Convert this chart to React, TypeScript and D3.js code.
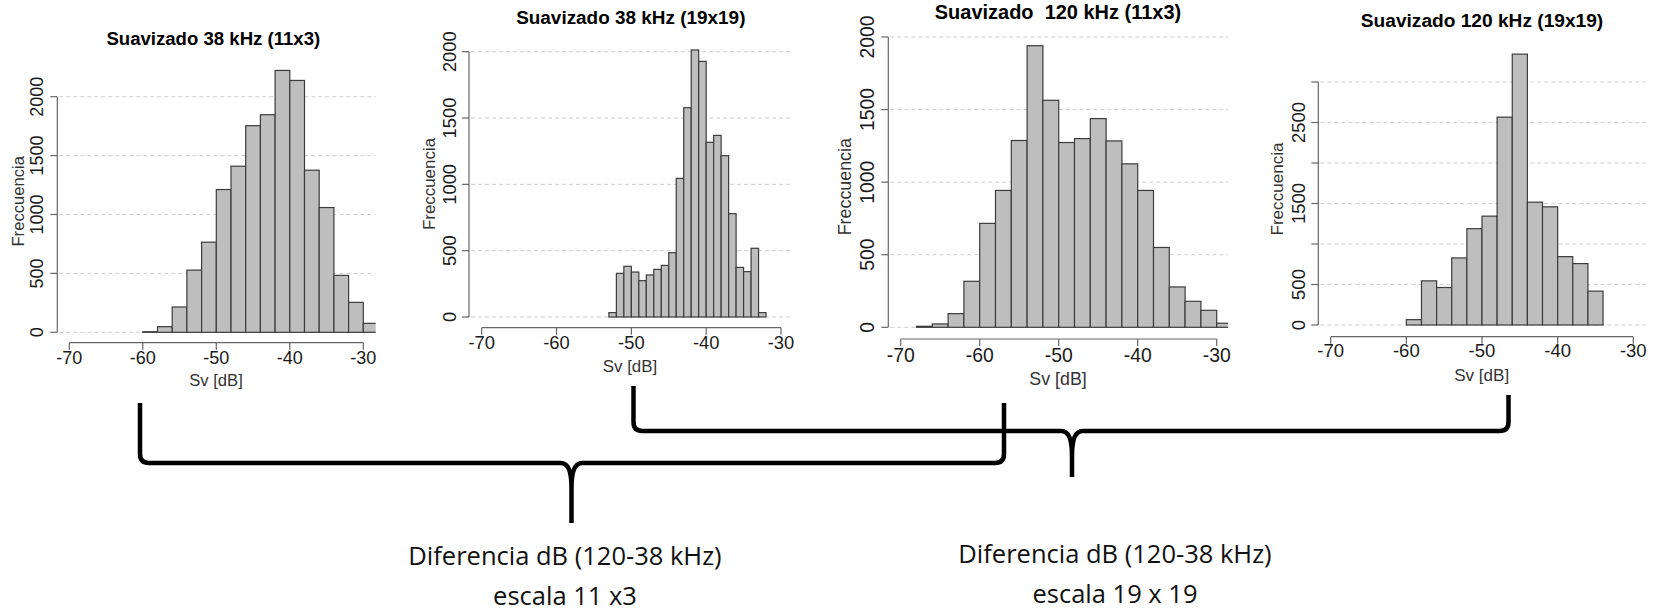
import React from 'react';
import * as d3 from 'd3';

// ---------- DATA ----------
const xTickValues = [-70, -60, -50, -40, -30];

const titles = [
  'Suavizado 38 kHz (11x3)',
  'Suavizado 38 kHz (19x19)',
  'Suavizado  120 kHz (11x3)',
  'Suavizado 120 kHz (19x19)',
];

const edges1 = [-60, -58, -56, -54, -52, -50, -48, -46, -44, -42, -40, -38, -36, -34, -32, -30, -28];
const counts1 = [5, 48, 215, 528, 765, 1212, 1410, 1754, 1847, 2223, 2138, 1376, 1059, 483, 254, 76];

const edges2 = [-53, -52, -51, -50, -49, -48, -47, -46, -45, -44, -43, -42, -41, -40, -39, -38, -37, -36, -35, -34, -33, -32];
const counts2 = [33, 329, 382, 339, 274, 317, 359, 389, 485, 1045, 1578, 2013, 1927, 1317, 1369, 1216, 779, 374, 342, 518, 33];

const edges3 = [-68, -66, -64, -62, -60, -58, -56, -54, -52, -50, -48, -46, -44, -42, -40, -38, -36, -34, -32, -30, -28];
const counts3 = [7, 23, 94, 317, 716, 943, 1287, 1940, 1564, 1273, 1300, 1438, 1284, 1126, 943, 550, 278, 179, 117, 28];

const edges4 = [-60, -58, -56, -54, -52, -50, -48, -46, -44, -42, -40, -38, -36, -34];
const counts4 = [66, 545, 463, 828, 1189, 1344, 2566, 3344, 1516, 1459, 844, 758, 418];

const yTicks123 = [0, 500, 1000, 1500, 2000];
const yLabels123 = [0, 500, 1000, 1500, 2000];
const yTicks4 = [0, 500, 1000, 1500, 2000, 2500, 3000];
const yLabels4 = [0, 500, 1500, 2500];

const yLabelText = 'Freccuencia';
const xLabelText = 'Sv [dB]';

const noteLine1 = 'Diferencia dB (120-38 kHz)';
const noteLine2a = 'escala 11 x3';
const noteLine2b = 'escala 19 x 19';

// ---------- LAYOUT ----------
const layouts = [
  { x70: 69.3, x30: 363.3, y0: 332.3, yTopPx: 96.7, yMax: 2000, axisX: 57.3, xAxisY: 342.7, clipRight: 375.7,
    ytickX: 37, xtickY: 358.3, svX: 216, svY: 380, freqX: 18.7, freqY: 201.3, titleX: 213.3, titleY: 38.3 },
  { x70: 481.7, x30: 781, y0: 317, yTopPx: 51.7, yMax: 2000, axisX: 469, xAxisY: 327.7, clipRight: 793,
    ytickX: 449, xtickY: 342, svX: 630, svY: 366.7, freqX: 429.3, freqY: 184, titleX: 630.8, titleY: 17.3 },
  { x70: 900.7, x30: 1216.7, y0: 327.3, yTopPx: 37, yMax: 2000, axisX: 888.3, xAxisY: 339, clipRight: 1228,
    ytickX: 866.7, xtickY: 355, svX: 1058, svY: 379, freqX: 845, freqY: 186.7, titleX: 1058, titleY: 12 },
  { x70: 1330.7, x30: 1633.3, y0: 325, yTopPx: 82, yMax: 3000, axisX: 1318.3, xAxisY: 336.7, clipRight: 1646,
    ytickX: 1298.3, xtickY: 350.7, svX: 1481.7, svY: 375, freqX: 1277.3, freqY: 189, titleX: 1482, titleY: 20 },
];

const panelData = [
  { edges: edges1, counts: counts1, yTicks: yTicks123, yLabels: yLabels123 },
  { edges: edges2, counts: counts2, yTicks: yTicks123, yLabels: yLabels123 },
  { edges: edges3, counts: counts3, yTicks: yTicks123, yLabels: yLabels123 },
  { edges: edges4, counts: counts4, yTicks: yTicks4, yLabels: yLabels4 },
];

const braces = [
  { left: 140, topL: 403, right: 1004, topR: 403, bar: 463, tipX: 571.5, tipBottom: 523 },
  { left: 633.5, topL: 386, right: 1508.5, topR: 395, bar: 431, tipX: 1072, tipBottom: 477 },
];

const notes = [
  { x: 565, y1: 565, y2: 605, l2: noteLine2a },
  { x: 1115, y1: 563, y2: 603, l2: noteLine2b },
];

const FONT = '"Liberation Sans", Arial, sans-serif';

function bracePath(b: typeof braces[number]) {
  const r = 9;
  const p = d3.path();
  p.moveTo(b.left, b.topL);
  p.lineTo(b.left, b.bar - r);
  p.quadraticCurveTo(b.left, b.bar, b.left + r, b.bar);
  p.lineTo(b.tipX - 11, b.bar);
  p.bezierCurveTo(b.tipX - 3, b.bar, b.tipX, b.bar + 8, b.tipX, b.bar + 26);
  p.lineTo(b.tipX, b.tipBottom);
  p.moveTo(b.tipX, b.bar + 26);
  p.bezierCurveTo(b.tipX, b.bar + 8, b.tipX + 3, b.bar, b.tipX + 11, b.bar);
  p.lineTo(b.right - r, b.bar);
  p.quadraticCurveTo(b.right, b.bar, b.right, b.bar - r);
  p.lineTo(b.right, b.topR);
  return p.toString();
}

function Panel({ i }: { i: number }) {
  const L = layouts[i];
  const D = panelData[i];
  const x = d3.scaleLinear().domain([-70, -30]).range([L.x70, L.x30]);
  const y = d3.scaleLinear().domain([0, L.yMax]).range([L.y0, L.yTopPx]);
  const u = L.x30 - L.x70; // px per 40 dB
  const tickFont = 0.245 * u / 4;
  const labFont = 0.226 * u / 4;
  const titleFont = 0.253 * u / 4;
  const clipId = `clip${i}`;
  const bins = D.counts.map((c, k) => ({ x0: D.edges[k], x1: D.edges[k + 1], c }));
  return (
    <g>
      <defs>
        <clipPath id={clipId}>
          <rect x={L.axisX} y={0} width={L.clipRight - L.axisX} height={L.xAxisY - 2} />
        </clipPath>
      </defs>
      <g clipPath={`url(#${clipId})`}>
        {D.yTicks.map((t) => (
          <line key={t} x1={L.axisX + 2} x2={L.clipRight} y1={y(t)} y2={y(t)}
            stroke="#cfcfcf" strokeWidth={1} strokeDasharray="4,3" />
        ))}
        {bins.map((b, k) => (
          <rect key={k} x={x(b.x0)} y={y(b.c)} width={x(b.x1) - x(b.x0)} height={y(0) - y(b.c)}
            fill="#bebebe" stroke="#3c3c3c" strokeWidth={1.2} />
        ))}
      </g>
      {/* y axis */}
      <line x1={L.axisX} x2={L.axisX} y1={y(0)} y2={y(D.yTicks[D.yTicks.length - 1])} stroke="#666" strokeWidth={1.2} />
      {D.yTicks.map((t) => (
        <line key={t} x1={L.axisX - 7} x2={L.axisX} y1={y(t)} y2={y(t)} stroke="#666" strokeWidth={1.2} />
      ))}
      {D.yLabels.map((t) => (
        <text key={t} transform={`translate(${L.ytickX},${y(t)}) rotate(-90)`} textAnchor="middle"
          dominantBaseline="central" fontFamily={FONT} fontSize={tickFont} fill="#1a1a1a">{t}</text>
      ))}
      {/* x axis */}
      <line x1={x(-70)} x2={x(-30)} y1={L.xAxisY} y2={L.xAxisY} stroke="#666" strokeWidth={1.2} />
      {xTickValues.map((t) => (
        <g key={t}>
          <line x1={x(t)} x2={x(t)} y1={L.xAxisY} y2={L.xAxisY + 7} stroke="#666" strokeWidth={1.2} />
          <text x={x(t)} y={L.xtickY} textAnchor="middle" dominantBaseline="central"
            fontFamily={FONT} fontSize={tickFont} fill="#1a1a1a">{t}</text>
        </g>
      ))}
      <text x={L.svX} y={L.svY} textAnchor="middle" dominantBaseline="central" fontFamily={FONT}
        fontSize={labFont} fill="#333">{xLabelText}</text>
      <text transform={`translate(${L.freqX},${L.freqY}) rotate(-90)`} textAnchor="middle"
        dominantBaseline="central" fontFamily={FONT} fontSize={labFont} fill="#333">{yLabelText}</text>
      <text x={L.titleX} y={L.titleY} textAnchor="middle" dominantBaseline="central" fontFamily={FONT}
        fontSize={titleFont} fontWeight="bold" fill="#000" style={{ whiteSpace: 'pre' }}>{titles[i]}</text>
    </g>
  );
}

export default function App() {
  return (
    <svg width={1658} height={613} style={{ position: 'absolute', left: 0, top: 0, background: '#fff' }}>
      <rect x={0} y={0} width={1658} height={613} fill="#fff" />
      {[0, 1, 2, 3].map((i) => <Panel key={i} i={i} />)}
      {braces.map((b, k) => (
        <path key={k} d={bracePath(b)} fill="none" stroke="#000" strokeWidth={4.5} strokeLinejoin="round" />
      ))}
      {notes.map((n, k) => (
        <g key={k} fontFamily='"Open Sans", sans-serif' fontSize={25.5} fill="#111" textAnchor="middle">
          <text x={n.x} y={n.y1}>{noteLine1}</text>
          <text x={n.x} y={n.y2}>{n.l2}</text>
        </g>
      ))}
    </svg>
  );
}
